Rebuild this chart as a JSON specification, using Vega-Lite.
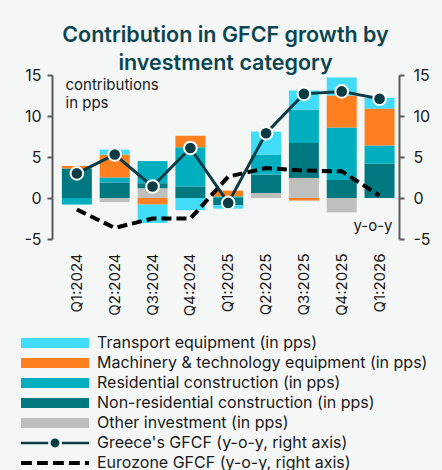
{
  "$schema": "https://vega.github.io/schema/vega-lite/v6.json",
  "autosize": "none",
  "width": 347,
  "height": 164,
  "padding": {"left": 52, "top": 75, "right": 43, "bottom": 231},
  "background": "#F5F7F7",
  "config": {"view": {"stroke": null}, "font": "Inter"},
  "title": {
    "text": ["Contribution in GFCF growth by", "investment category"],
    "fontSize": 21.5,
    "font": "Inter",
    "fontWeight": 600,
    "color": "#0B4550",
    "anchor": "middle",
    "frame": "group",
    "offset": -7,
    "lineHeight": 28
  },
  "datasets": {
    "bars": [
      {"quarter": "Q1:2024", "series": "Non-residential construction (in pps)", "value": 3.6},
      {"quarter": "Q1:2024", "series": "Machinery & technology equipment (in pps)", "value": 0.3},
      {"quarter": "Q1:2024", "series": "Residential construction (in pps)", "value": -0.8},
      {"quarter": "Q2:2024", "series": "Other investment (in pps)", "value": -0.5},
      {"quarter": "Q2:2024", "series": "Non-residential construction (in pps)", "value": 1.9},
      {"quarter": "Q2:2024", "series": "Residential construction (in pps)", "value": 0.6},
      {"quarter": "Q2:2024", "series": "Machinery & technology equipment (in pps)", "value": 2.8},
      {"quarter": "Q2:2024", "series": "Transport equipment (in pps)", "value": 0.6},
      {"quarter": "Q3:2024", "series": "Other investment (in pps)", "value": 1.2},
      {"quarter": "Q3:2024", "series": "Non-residential construction (in pps)", "value": 0.6},
      {"quarter": "Q3:2024", "series": "Residential construction (in pps)", "value": 2.7},
      {"quarter": "Q3:2024", "series": "Machinery & technology equipment (in pps)", "value": -0.8},
      {"quarter": "Q3:2024", "series": "Transport equipment (in pps)", "value": -2.25},
      {"quarter": "Q4:2024", "series": "Non-residential construction (in pps)", "value": 1.4},
      {"quarter": "Q4:2024", "series": "Residential construction (in pps)", "value": 4.8},
      {"quarter": "Q4:2024", "series": "Machinery & technology equipment (in pps)", "value": 1.4},
      {"quarter": "Q4:2024", "series": "Transport equipment (in pps)", "value": -1.5},
      {"quarter": "Q1:2025", "series": "Residential construction (in pps)", "value": 0.2},
      {"quarter": "Q1:2025", "series": "Machinery & technology equipment (in pps)", "value": 0.7},
      {"quarter": "Q1:2025", "series": "Non-residential construction (in pps)", "value": -0.9},
      {"quarter": "Q1:2025", "series": "Transport equipment (in pps)", "value": -0.4},
      {"quarter": "Q2:2025", "series": "Other investment (in pps)", "value": 0.6},
      {"quarter": "Q2:2025", "series": "Non-residential construction (in pps)", "value": 2.25},
      {"quarter": "Q2:2025", "series": "Residential construction (in pps)", "value": 2.45},
      {"quarter": "Q2:2025", "series": "Transport equipment (in pps)", "value": 2.8},
      {"quarter": "Q3:2025", "series": "Other investment (in pps)", "value": 2.45},
      {"quarter": "Q3:2025", "series": "Non-residential construction (in pps)", "value": 4.25},
      {"quarter": "Q3:2025", "series": "Residential construction (in pps)", "value": 4.1},
      {"quarter": "Q3:2025", "series": "Transport equipment (in pps)", "value": 2.3},
      {"quarter": "Q3:2025", "series": "Machinery & technology equipment (in pps)", "value": -0.3},
      {"quarter": "Q4:2025", "series": "Non-residential construction (in pps)", "value": 2.2},
      {"quarter": "Q4:2025", "series": "Residential construction (in pps)", "value": 6.4},
      {"quarter": "Q4:2025", "series": "Machinery & technology equipment (in pps)", "value": 3.9},
      {"quarter": "Q4:2025", "series": "Transport equipment (in pps)", "value": 2.2},
      {"quarter": "Q4:2025", "series": "Other investment (in pps)", "value": -1.75},
      {"quarter": "Q1:2026", "series": "Non-residential construction (in pps)", "value": 4.2},
      {"quarter": "Q1:2026", "series": "Residential construction (in pps)", "value": 2.2},
      {"quarter": "Q1:2026", "series": "Machinery & technology equipment (in pps)", "value": 4.5},
      {"quarter": "Q1:2026", "series": "Transport equipment (in pps)", "value": 1.3}
    ],
    "lines": [
      {"quarter": "Q1:2024", "series": "Greece's GFCF (y-o-y, right axis)", "value": 3.0},
      {"quarter": "Q2:2024", "series": "Greece's GFCF (y-o-y, right axis)", "value": 5.3},
      {"quarter": "Q3:2024", "series": "Greece's GFCF (y-o-y, right axis)", "value": 1.4},
      {"quarter": "Q4:2024", "series": "Greece's GFCF (y-o-y, right axis)", "value": 6.1},
      {"quarter": "Q1:2025", "series": "Greece's GFCF (y-o-y, right axis)", "value": -0.6},
      {"quarter": "Q2:2025", "series": "Greece's GFCF (y-o-y, right axis)", "value": 7.9},
      {"quarter": "Q3:2025", "series": "Greece's GFCF (y-o-y, right axis)", "value": 12.7},
      {"quarter": "Q4:2025", "series": "Greece's GFCF (y-o-y, right axis)", "value": 13.0},
      {"quarter": "Q1:2026", "series": "Greece's GFCF (y-o-y, right axis)", "value": 12.1},
      {"quarter": "Q1:2024", "series": "Eurozone GFCF (y-o-y, right axis)", "value": -1.4},
      {"quarter": "Q2:2024", "series": "Eurozone GFCF (y-o-y, right axis)", "value": -3.65},
      {"quarter": "Q3:2024", "series": "Eurozone GFCF (y-o-y, right axis)", "value": -2.5},
      {"quarter": "Q4:2024", "series": "Eurozone GFCF (y-o-y, right axis)", "value": -2.5},
      {"quarter": "Q1:2025", "series": "Eurozone GFCF (y-o-y, right axis)", "value": 2.6},
      {"quarter": "Q2:2025", "series": "Eurozone GFCF (y-o-y, right axis)", "value": 3.65},
      {"quarter": "Q3:2025", "series": "Eurozone GFCF (y-o-y, right axis)", "value": 3.35},
      {"quarter": "Q4:2025", "series": "Eurozone GFCF (y-o-y, right axis)", "value": 3.25},
      {"quarter": "Q1:2026", "series": "Eurozone GFCF (y-o-y, right axis)", "value": 0.3}
    ]
  },
  "encoding": {
    "x": {
      "field": "quarter",
      "type": "nominal",
      "sort": null,
      "scale": {"paddingInner": 0.207, "paddingOuter": 0.189, "align": 0.69},
      "axis": {
        "title": null,
        "domain": false,
        "ticks": false,
        "labelAngle": -90,
        "labelPadding": 14,
        "labelFontSize": 15,
        "labelColor": "#1a1a1a",
        "labelFont": "Inter"
      }
    }
  },
  "layer": [
    {
      "layer": [
        {
          "data": {"name": "bars"},
          "transform": [
            {"calculate": "indexof(['Other investment (in pps)', 'Non-residential construction (in pps)', 'Residential construction (in pps)', 'Machinery & technology equipment (in pps)', 'Transport equipment (in pps)'], datum.series)", "as": "stackrank"}
          ],
          "mark": {"type": "bar"},
          "encoding": {
            "y": {
              "field": "value",
              "type": "quantitative",
              "stack": "zero",
              "scale": {"domain": [-5, 15], "nice": false, "zero": false},
              "axis": {
                "orient": "left",
                "values": [-5, 0, 5, 10, 15],
                "grid": false,
                "domainColor": "#595959",
                "domainWidth": 2,
                "tickColor": "#595959",
                "tickWidth": 2,
                "tickSize": 5,
                "labelFontSize": 16,
                "labelColor": "#1a1a1a",
                "labelPadding": 6,
                "labelExpr": "'' + datum.value",
                "title": ["contributions", "in pps"],
                "titleAngle": 0,
                "titleX": 13,
                "titleY": 14.5,
                "titleAlign": "left",
                "titleBaseline": "alphabetic",
                "titleFontSize": 15,
                "titleFontWeight": "normal",
                "titleColor": "#1a1a1a",
                "titleLineHeight": 18
              }
            },
            "color": {
              "field": "series",
              "type": "nominal",
              "scale": {
                "domain": [
                  "Transport equipment (in pps)",
                  "Machinery & technology equipment (in pps)",
                  "Residential construction (in pps)",
                  "Non-residential construction (in pps)",
                  "Other investment (in pps)",
                  "Greece's GFCF (y-o-y, right axis)",
                  "Eurozone GFCF (y-o-y, right axis)"
                ],
                "range": ["#40DCF8", "#FD7F1F", "#00AFBF", "#00787F", "#BFBFBE", "#0B3C45", "#000000"]
              },
              "legend": {
                "title": null,
                "orient": "none",
                "legendX": -31,
                "legendY": 258,
                "direction": "vertical",
                "padding": 0,
                "symbolSize": 4624,
                "clipHeight": 20,
                "rowPadding": 0,
                "labelFontSize": 16,
                "labelColor": "#1a1a1a",
                "labelOffset": 8,
                "labelLimit": 500,
                "encode": {
                  "symbols": {
                    "update": {
                      "shape": {"signal": "indexof(datum.value, 'Greece') === 0 ? 'M-1,-0.04H-0.2V0.04H-1Z M0.2,-0.04H1V0.04H0.2Z M-0.13,0A0.13,0.13 0 1,0 0.13,0A0.13,0.13 0 1,0 -0.13,0Z' : indexof(datum.value, 'Eurozone') === 0 ? 'M-1,-0.06H-0.68V0.06H-1Z M-0.53,-0.06H-0.21V0.06H-0.53Z M-0.06,-0.06H0.26V0.06H-0.06Z M0.41,-0.06H0.73V0.06H0.41Z M0.88,-0.06H1V0.06H0.88Z' : 'M-1,-0.15H1V0.15H-1Z'"},
                      "fill": {"signal": "scale('color', datum.value)"},
                      "stroke": {"value": "transparent"},
                      "strokeWidth": {"value": 0},
                      "opacity": {"value": 1},
                      "fillOpacity": {"value": 1}
                    }
                  }
                }
              }
            },
            "order": {"field": "stackrank", "type": "quantitative"}
          }
        },
        {
          "mark": {"type": "rule", "color": "#7F7F7F", "strokeWidth": 2},
          "encoding": {"y": {"datum": 0, "type": "quantitative"}}
        }
      ]
    },
    {
      "data": {"name": "lines"},
      "layer": [
        {
          "transform": [{"filter": "indexof(datum.series, 'Eurozone') === 0"}],
          "mark": {"type": "line", "strokeWidth": 4, "strokeDash": [10, 5]},
          "encoding": {
            "y": {
              "field": "value",
              "type": "quantitative",
              "scale": {"domain": [-5, 15], "nice": false, "zero": false},
              "axis": {
                "orient": "right",
                "values": [-5, 0, 5, 10, 15],
                "grid": false,
                "domainColor": "#595959",
                "domainWidth": 2,
                "tickColor": "#595959",
                "tickWidth": 2,
                "tickSize": 5,
                "labelFontSize": 16,
                "labelColor": "#1a1a1a",
                "labelPadding": 9,
                "labelExpr": "'' + datum.value",
                "title": "y-o-y",
                "titleAngle": 0,
                "titleX": -7,
                "titleY": 155,
                "titleAlign": "right",
                "titleBaseline": "alphabetic",
                "titleFontSize": 15,
                "titleFontWeight": "normal",
                "titleColor": "#1a1a1a"
              }
            },
            "color": {"field": "series", "type": "nominal"}
          }
        },
        {
          "transform": [{"filter": "indexof(datum.series, 'Greece') === 0"}],
          "mark": {"type": "line", "strokeWidth": 3},
          "encoding": {
            "y": {"field": "value", "type": "quantitative"},
            "color": {"field": "series", "type": "nominal"}
          }
        },
        {
          "transform": [{"filter": "indexof(datum.series, 'Greece') === 0"}],
          "mark": {"type": "point", "filled": true, "fill": "#0B3C45", "stroke": "white", "strokeWidth": 2, "size": 160, "opacity": 1},
          "encoding": {
            "y": {"field": "value", "type": "quantitative"}
          }
        }
      ]
    }
  ],
  "resolve": {"scale": {"y": "independent"}, "axis": {"y": "independent"}}
}
